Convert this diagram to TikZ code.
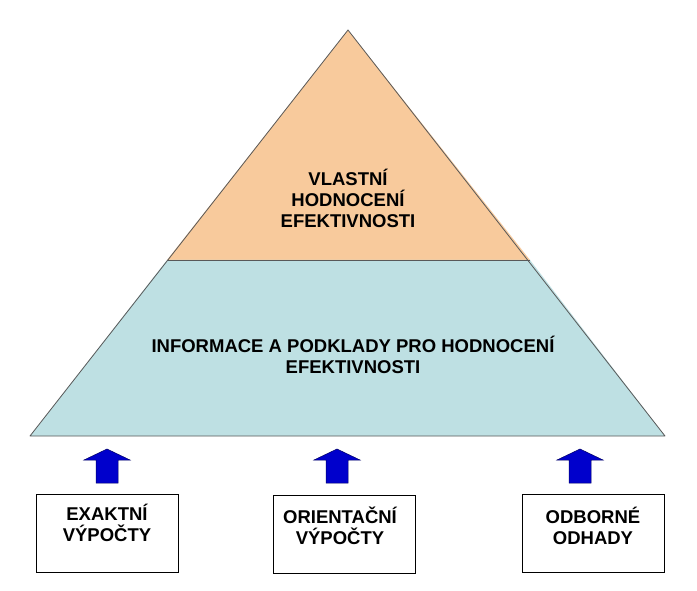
\documentclass[tikz,border=0pt]{standalone}
\usepackage{fontspec}
\setmainfont{Liberation Sans}
\begin{document}
\begin{tikzpicture}[x=1pt,y=-1pt,
  lbl/.style={font=\bfseries\fontsize{18.5}{21}\selectfont,align=center,text=black,inner sep=0pt},
  srcbox/.style={draw=black,fill=white,minimum width=142pt,minimum height=78pt,inner sep=0pt},
  uparrow/.style={fill=blue!80!black,draw=blue!40!black,line width=0.5pt}]
\useasboundingbox (0,0) rectangle (697,591);
\fill[white] (0,0) rectangle (697,591);
\fill[fill={rgb,255:red,248;green,202;blue,156}] (348,30) -- (530,260) -- (167,260) -- cycle;
\fill[fill={rgb,255:red,190;green,224;blue,227}] (167,260) -- (530,260) -- (665,436) -- (30,436) -- cycle;
\draw[gray!70!black,line width=0.8pt,line join=round] (348,30) -- (665,436) -- (30,436) -- cycle;
\draw[gray!70!black,line width=0.6pt] (167,260) -- (530,260);
\node[lbl] (top) at (348,198) {VLASTNÍ\\HODNOCENÍ\\EFEKTIVNOSTI};
\node[lbl] (mid) at (353,355) {INFORMACE A PODKLADY PRO HODNOCENÍ\\EFEKTIVNOSTI};
\node[srcbox] (b1) at (107,533) {};
\node[srcbox] (b2) at (344,534.5) {};
\node[srcbox] (b3) at (593,533) {};
\node[lbl] (t1) at (107,523) {EXAKTNÍ\\VÝPOČTY};
\node[lbl] (t2) at (340,526) {ORIENTAČNÍ\\VÝPOČTY};
\node[lbl] (t3) at (593,526) {ODBORNÉ\\ODHADY};
\foreach \c in {107,337,580}{
  \draw[uparrow] (\c-11,483) -- (\c-11,460) -- (\c-23,460) -- (\c,449) -- (\c+23,460) -- (\c+11,460) -- (\c+11,483) -- cycle;
}
\end{tikzpicture}
\end{document}
